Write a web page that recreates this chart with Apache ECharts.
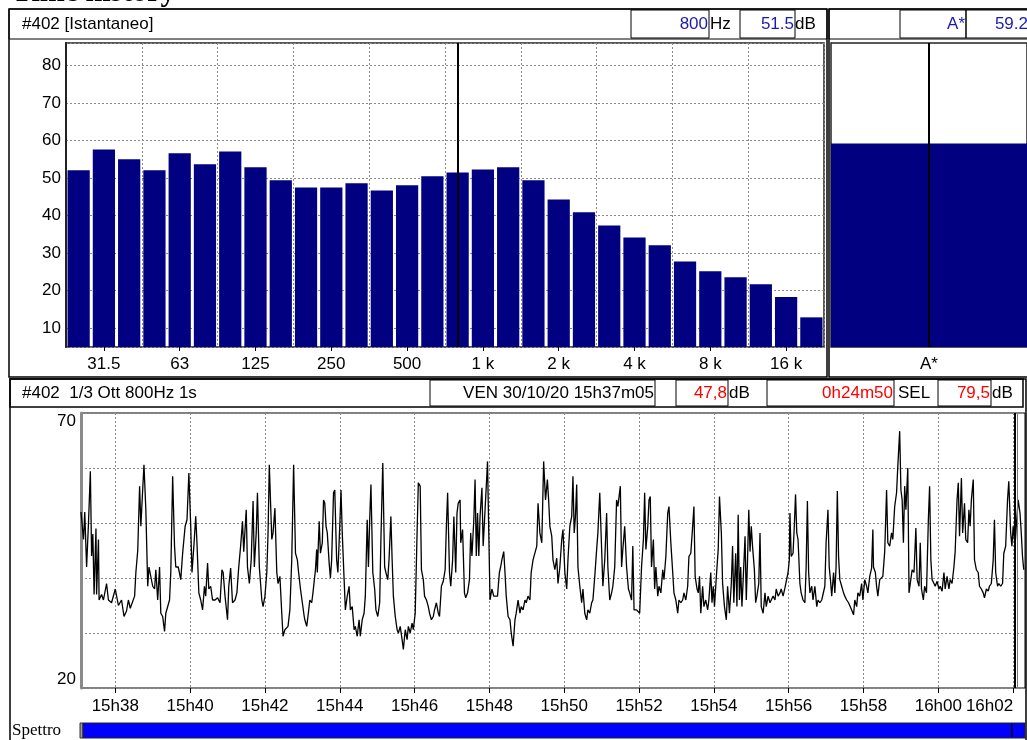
<!DOCTYPE html>
<html><head><meta charset="utf-8">
<script src="https://cdn.jsdelivr.net/npm/echarts@6/dist/echarts.min.js"></script>
<style>html,body{margin:0;padding:0;background:#fff;overflow:hidden}#c{width:1027px;height:740px}</style>
</head><body><div id="c"></div>
<script>
// ---------- DATA ----------
const pageTitle = 'Time history';
const spectrumTitle = '#402 [Istantaneo]';
const bandLabels = ['25','31.5','40','50','63','80','100','125','160','200','250','315','400','500','630','800','1 k','1.25 k','1.6 k','2 k','2.5 k','3.15 k','4 k','5 k','6.3 k','8 k','10 k','12.5 k','16 k','20 k'];
const bandLevels = [52.1,57.6,55.0,52.1,56.6,53.7,57.1,52.9,49.4,47.5,47.5,48.6,46.7,48.1,50.5,51.5,52.3,52.9,49.4,44.3,40.9,37.4,34.2,32.1,27.8,25.2,23.6,21.7,18.3,12.9];
const cursorBand = '800';
const cursorFreqText = '800';
const cursorLevelText = '51.5';
const totalNames = ['A*'];
const totalLevels = [59.2];
const totalValueText = '59.2';

const historyTitle = '#402  1/3 Ott 800Hz 1s';
const startText = 'VEN 30/10/20 15h37m05';
const startTime = '15h37m05';
const leqText = '47,8';
const durationText = '0h24m50';
const selLabel = 'SEL';
const selText = '79,5';
const timeTickLabels = ['15h38','15h40','15h42','15h44','15h46','15h48','15h50','15h52','15h54','15h56','15h58','16h00','16h02'];
const levelAxisLabels = [20, 70];
const axisEndOffset = 1514;      // seconds after start at right edge of plot
const timeCursors = [1498, 1502]; // seconds after start
const bottomLabel = 'Spettro';

// [seconds after start, dB]
const levelsA = [[0,52],[4,47],[6,52],[9,42],[12,50],[15,59.4],[17,44],[19,48],[21,37],[24,49],[25,37],[28,47],[29,36],[33,37],[36,36],[41,39],[44,36],[49,35.5],[55,38],[60,35],[65,36],[69,33],[73,34],[76,36],[79,34.5],[82,34.5],[86,36.7],[88,41],[91,45],[94,56.7],[96,49.4],[98,54],[101,60.6],[104,52.4],[107,38.5],[109,42],[112,42],[115,38.5],[118,38],[120,41.5],[123,36],[126,42],[128,33.6],[131,33],[134,30.3],[136,33.6],[139,33.6],[142,36],[144,41],[147,58.5],[150,45.8],[152,42],[156,42],[160,39.7],[163,44.5],[167,49.4],[170,50.6],[173,59.1],[176,49.4],[178,41],[181,45.8],[184,51.2],[186,46.4],[189,37.3],[192,36],[195,34.2],[198,38.5],[200,36.7],[203,42.7],[205,38],[208,38.5],[211,36],[215,36],[219,36.4],[223,35.5],[226,41.5],[228,41],[231,36.7],[235,32.4],[237,38.5],[240,41.8],[243,35.5],[247,36],[250,37.3],[253,42],[256,45.8],[259,50.3],[261,44.8],[265,52.4],[267,42],[270,39],[273,43.3],[276,54],[278,42],[281,48.2],[283,55.5],[286,42],[290,36],[292,34.8],[295,36.7],[298,41],[300,48.2],[302,60.6],[306,47],[308,48.2],[311,52.7],[314,41],[316,39],[319,40.3],[322,33.6],[324,29.4],[327,30.6],[332,31.2],[335,34.2],[338,43.3],[341,60.6],[344,44.5],[347,43.3],[349,41],[352,38],[355,35.5],[358,33]];
const levelsB = [[359,32.4],[362,31.2],[364,33],[367,36],[370,35.5],[372,37.3],[376,41.5],[378,45.2],[379,41],[382,50.3],[384,44.5],[387,46.4],[389,54.2],[391,53.6],[393,49.4],[395,48.2],[398,42.7],[400,40],[402,43.3],[405,55.5],[407,56],[410,43.3],[412,41],[415,49.4],[417,56],[419,48.2],[422,39.7],[424,34.2],[427,36.7],[430,38.5],[432,34.2],[435,34.8],[438,30.6],[440,31.2],[443,29.4],[446,32.4],[448,29.4],[451,32.4],[454,33.6],[456,36.7],[459,50.6],[461,42],[463,50.6],[465,57],[468,41],[471,38],[473,34.2],[476,33],[479,35.5],[481,47],[484,60.9],[487,42],[489,41],[492,39.7],[494,43.3],[497,51.2],[499,43.3],[501,36.7],[504,33],[507,30.6],[509,30],[512,31.2],[515,28.8],[517,27],[520,30.6],[523,28.8],[525,31.2],[528,30],[531,31.8],[533,30.6],[536,33.6],[539,48.2],[541,57.3],[544,56.7],[546,41.5],[549,39.7],[551,36.7],[554,36],[557,34.8],[559,33.6],[562,32.4],[565,33],[567,34.2],[570,35.5],[573,33.6],[575,33],[578,38.5],[581,39.4],[584,41.5],[586,49.4],[588,55.5],[591,41],[593,38.5],[596,43.3],[598,51.2],[601,41],[603,51.8],[605,53.6],[608,54.2],[609,46.4],[612,48.8],[615,37.3],[617,36.4],[620,37.3],[623,39.7],[625,48.2],[627,44],[630,50.6],[632,57.9],[634,44],[636,51.8],[638,44],[640,51.2],[643,56.4],[645,45.8],[648,45.8],[650,56.7],[652,61.2],[654,48.2],[656,36],[659,38],[662,36.7],[664,36.4],[668,36.7],[671,41],[673,42],[675,43.3],[678,44.8],[680,41],[682,36.7],[685,33],[688,32.4],[690,30],[693,27.6],[696,32.4],[698,33.6],[701,36],[704,33.6],[706,34.8],[709,34.2],[712,36],[714,35.5],[717,36.7],[720,36],[722,41],[725,43.3]];
const levelsC = [[728,43.3],[731,45.8],[733,53.6],[736,48.2],[739,46.4],[740,51.2],[742,61.2],[745,54.2],[748,57.9],[750,54.2],[752,49.4],[755,47.6],[757,43.3],[760,41.5],[763,43.6],[765,39],[768,42],[771,47],[773,48.8],[776,41],[779,38],[781,43.3],[784,49.4],[787,51.2],[789,58.5],[791,48.2],[793,51.2],[795,57],[797,42],[800,38.5],[803,35.5],[805,38],[808,33.6],[811,32.4],[813,34.2],[816,33.6],[819,35.5],[821,36],[824,40.3],[827,45.2],[829,48.2],[832,55.5],[835,45.2],[837,38.5],[840,43.3],[843,51.8],[845,42],[848,36],[851,37.3],[853,38.5],[856,42],[859,54.2],[861,53],[865,56.7],[867,42],[869,45.2],[872,49.4],[875,42],[878,38],[880,37.3],[883,36],[885,45.8],[887,34.2],[891,34.2],[894,33.9],[896,33.6],[899,42],[902,47],[904,55.5],[906,45.2],[909,49.4],[911,54.2],[913,54.8],[915,42],[918,47],[920,38],[922,42],[925,36.7],[927,38.5],[930,37.3],[933,41.5],[935,39.7],[938,43.9],[941,51.8],[943,53],[946,46.4],[949,41],[951,37.3],[954,36],[957,33.6],[959,36],[962,35.5],[965,36],[967,37.3],[970,36],[973,38.5],[975,43.9],[978,44.5],[981,49.4],[983,53],[985,40.3],[988,38],[990,37.3],[992,40.3],[994,33.6],[997,38.5],[999,34.8],[1002,36],[1005,34.2],[1007,36],[1010,41],[1012,35.5],[1014,38.5],[1016,34.8],[1019,40.3],[1022,45.2],[1024,54.8],[1027,48.2],[1029,39],[1032,34.8],[1035,32.4],[1037,38.5],[1040,33.6],[1043,39],[1045,45.8],[1047,35.5],[1050,44.5],[1052,34.8],[1054,51.5],[1056,36],[1058,42],[1060,34.8],[1062,39.7],[1065,47.6],[1067,36],[1069,43.3],[1071,52.4],[1073,44.8],[1075,49.4],[1077,45.8],[1080,41.5],[1082,35.5],[1084,36.7],[1087,39],[1089,48.2],[1091,34.8],[1094,33.6]];
const levelsD = [[1097,37.3],[1099,34.8],[1102,36.7],[1105,35.5],[1107,36],[1110,36.7],[1113,36],[1115,38],[1118,36.7],[1121,37.3],[1123,38],[1126,36.7],[1129,38.2],[1131,38.5],[1134,41],[1136,43.3],[1137,51.8],[1139,43.9],[1142,44.5],[1144,49.4],[1146,55.2],[1148,48.2],[1150,47],[1153,39],[1155,37.3],[1158,36],[1161,35.5],[1163,42],[1165,54],[1167,41],[1169,37.3],[1172,38.5],[1174,36],[1177,38.5],[1180,34.8],[1182,36],[1185,35.5],[1188,36],[1190,36],[1193,38.5],[1195,46.4],[1198,52.4],[1200,42],[1202,39.7],[1204,36.7],[1207,41],[1209,37.3],[1211,42],[1213,55.8],[1215,43.9],[1217,39.7],[1220,38.5],[1223,37.3],[1225,36.7],[1228,36],[1231,35.5],[1233,35.5],[1236,34.2],[1239,33.3],[1241,36],[1244,34.8],[1246,37.3],[1249,36.7],[1252,39],[1254,36],[1257,39.7],[1260,38.5],[1262,37.3],[1265,40.3],[1268,41.8],[1270,48.8],[1271,42],[1274,41],[1276,38.5],[1278,36.7],[1281,39.7],[1284,39.4],[1286,40.3],[1289,44.8],[1292,56],[1294,46.4],[1297,45.8],[1300,48.2],[1302,47],[1305,53],[1308,55.5],[1310,60.3],[1313,66.7],[1315,56],[1317,54.2],[1319,46.4],[1321,56.7],[1323,52.4],[1326,60],[1328,37.3],[1331,37.3],[1333,41.5],[1336,41],[1339,49.1],[1341,39.7],[1344,38.5],[1346,46.4],[1348,38],[1351,36],[1353,38.5],[1356,37.3],[1359,50.6],[1361,56.7],[1363,43.3],[1365,39.7],[1368,39],[1370,38.5],[1373,39.4],[1376,38],[1378,38.5],[1381,37.6],[1384,41],[1386,38],[1389,40.3],[1392,38],[1394,39.7],[1397,39],[1400,42],[1402,44.8],[1405,54.2],[1407,57.3],[1409,47.6],[1412,58.2],[1414,48.2],[1417,53.6],[1419,47],[1422,46.4],[1424,52.4],[1426,49.4],[1428,54.2],[1431,57.9],[1433,43.3],[1436,41.5],[1439,41],[1441,38.5],[1444,38],[1447,37.3],[1449,36.4],[1452,38],[1455,37.6],[1457,38.5],[1460,39],[1463,43.3],[1465,50.6],[1467,41],[1470,38.5],[1472,39],[1475,38.5],[1478,39],[1480,44.5],[1483,45.8],[1486,54.2],[1488,57.6],[1491,48.2],[1493,45.8],[1495,49.4],[1498,45.8],[1500,49.4],[1503,54.2],[1506,51.8],[1508,48.2],[1510,43.9],[1512,41.5]];

// ---------- CHART ----------
const FONT = 'Arial, "Liberation Sans", sans-serif';
const SERIF = '"Liberation Serif", "DejaVu Serif", serif';
const BAR = '#000080';
const BLUE_TXT = '#1c1caa';
const RED_TXT = '#ff0000';
const GL = {color:'#8a8a8a', type:[2,2], width:1};

function parseHM(s){ const m = s.match(/(\d+)h(\d+)(?:m(\d+))?/); return (+m[1])*3600 + (+m[2])*60 + (m[3] ? +m[3] : 0); }
function fmtHM(v){ const h = Math.floor(v/3600), m = Math.floor((v%3600)/60); return h + 'h' + String(m).padStart(2,'0'); }
const startSec = parseHM(startTime);
const tickSecs = timeTickLabels.map(parseHM);
const trace = [].concat(levelsA, levelsB, levelsC, levelsD).map(p => [startSec + p[0], p[1]]);

function box(x,y,w,h,lw){ return {type:'rect', shape:{x:x,y:y,width:w,height:h}, style:{fill:'none', stroke:'#000', lineWidth:lw||1}, silent:true, z:10}; }
function txt(x,y,text,color,align,font){ return {type:'text', x:x, y:y, style:{text:text, fill:color||'#000', font:font||('17px '+FONT), align:align||'left', verticalAlign:'middle'}, silent:true, z:11}; }

const chart = echarts.init(document.getElementById('c'));
const mlBase = {symbol:['none','none'], silent:true, animation:false, label:{show:false}};

chart.setOption({
  animation:false,
  backgroundColor:'#fff',
  textStyle:{fontFamily:FONT},
  grid:[
    {left:66, top:43, width:758, height:304, show:true, borderColor:'#222', borderWidth:1.5, backgroundColor:'#fff', containLabel:false, outerBoundsMode:'none'},
    {left:831, top:43, width:196, height:304, show:true, borderColor:'#222', borderWidth:1.5, backgroundColor:'#fff', containLabel:false, outerBoundsMode:'none'},
    {left:81, top:413, width:944, height:275, show:true, borderColor:'#000', borderWidth:1, backgroundColor:'#fff', containLabel:false, outerBoundsMode:'none'}
  ],
  xAxis:[
    {type:'category', gridIndex:0, data:bandLabels, boundaryGap:true,
     axisLine:{show:false},
     axisTick:{show:true, alignWithLabel:true, length:4, interval:(i)=>i%3===1, lineStyle:{color:'#000'}},
     axisLabel:{interval:(i)=>i%3===1, color:'#000', fontSize:17, fontFamily:FONT, margin:9},
     splitLine:{show:true, interval:(i)=>i%3===0, lineStyle:GL}},
    {type:'category', gridIndex:1, data:totalNames,
     axisLine:{show:false}, axisTick:{show:false},
     axisLabel:{color:'#000', fontSize:17, fontFamily:FONT, margin:9}},
    {type:'value', gridIndex:2, min:startSec, max:startSec+axisEndOffset, minInterval:120, maxInterval:120,
     axisLine:{show:false},
     axisTick:{show:true, length:5, customValues:tickSecs, lineStyle:{color:'#000'}},
     axisLabel:{customValues:tickSecs, formatter:fmtHM, color:'#000', fontSize:17, fontFamily:FONT, margin:10, showMinLabel:true, showMaxLabel:true, alignMaxLabel:'right'},
     splitLine:{show:true, lineStyle:GL}}
  ],
  yAxis:[
    {type:'value', gridIndex:0, min:5, max:86, minInterval:10, maxInterval:10,
     axisLine:{show:true, lineStyle:{color:'#222', width:2}}, axisTick:{show:false},
     axisLabel:{color:'#000', fontSize:17, fontFamily:FONT, margin:5, showMinLabel:false, showMaxLabel:false},
     splitLine:{show:true, lineStyle:GL}},
    {type:'value', gridIndex:1, min:5, max:86, show:false, splitLine:{show:false}},
    {type:'value', gridIndex:2, min:20, max:70, interval:10,
     axisLine:{show:true, lineStyle:{color:'#8a8a8a', width:3}}, axisTick:{show:false},
     axisLabel:{color:'#000', fontSize:17, fontFamily:FONT, margin:5,
       formatter:(v)=> levelAxisLabels.indexOf(v) >= 0 ? String(v) : '',
       verticalAlignMinLabel:'bottom', verticalAlignMaxLabel:'top'},
     splitLine:{show:true, lineStyle:GL}}
  ],
  series:[
    {type:'bar', xAxisIndex:0, yAxisIndex:0, data:bandLevels, barWidth:'88%', itemStyle:{color:BAR},
     markLine:Object.assign({data:[{xAxis:cursorBand}], lineStyle:{color:'#000', width:2, type:'solid'}}, mlBase)},
    {type:'bar', xAxisIndex:1, yAxisIndex:1, data:totalLevels, barWidth:'100%', itemStyle:{color:BAR},
     markLine:Object.assign({data:[{xAxis:totalNames[0]}], lineStyle:{color:'#000', width:2, type:'solid'}}, mlBase)},
    {type:'line', xAxisIndex:2, yAxisIndex:2, data:trace, showSymbol:false, symbol:'none', smooth:false,
     lineStyle:{color:'#000', width:1.3},
     markLine:Object.assign({data:[
        {xAxis:startSec+timeCursors[0], lineStyle:{color:'#000', width:2, type:'solid'}},
        {xAxis:startSec+timeCursors[1], lineStyle:{color:'#777', width:1, type:'solid'}}]}, mlBase)}
  ],
  graphic:[
    {type:'text', x:12, y:8, style:{text:pageTitle, fill:'#000', font:'bold 30px '+SERIF, align:'left', verticalAlign:'bottom'}, silent:true},
    // top-left panel
    box(9,9,818,368,1.5), box(9,9,818,30,1),
    txt(22,24,spectrumTitle),
    box(631,10,78,28,1), txt(708,24,cursorFreqText,BLUE_TXT,'right'), txt(710,24,'Hz'),
    box(740,10,55,28,1), txt(794,24,cursorLevelText,BLUE_TXT,'right'), txt(795,24,'dB'),
    // top-right panel
    box(829,9,200,368,1.5), box(829,9,200,30,1),
    box(900,10,66,28,1), txt(965,24,totalNames[0],BLUE_TXT,'right'),
    box(966,10,62,28,1), txt(1028,24,totalValueText,BLUE_TXT,'right'),
    // bottom panel
    box(10,379,1016,362,1.5), box(10,379,1013,28,1.5),
    txt(22,393,historyTitle),
    box(430,380,225,26,1), txt(654,393,startText,'#000','right'),
    box(676,380,52,26,1), txt(727,393,leqText,RED_TXT,'right'), txt(729,393,'dB'),
    box(767,380,127,26,1), txt(893,393,durationText,RED_TXT,'right'), txt(898,393,selLabel),
    box(938,380,53,26,1), txt(990,393,selText,RED_TXT,'right'), txt(992,393,'dB'),
    // spectrum strip
    txt(12,731,bottomLabel,'#000','left','17px '+SERIF),
    {type:'rect', shape:{x:80,y:723,width:3,height:15}, style:{fill:'#999', stroke:'#333', lineWidth:1}, silent:true, z:10},
    {type:'rect', shape:{x:83,y:723,width:942,height:15}, style:{fill:'#0000ff', stroke:'#222', lineWidth:1}, silent:true, z:10},
    {type:'rect', shape:{x:1011,y:724,width:1.5,height:13}, style:{fill:'#000'}, silent:true, z:11}
  ]
});
</script>
</body></html>
